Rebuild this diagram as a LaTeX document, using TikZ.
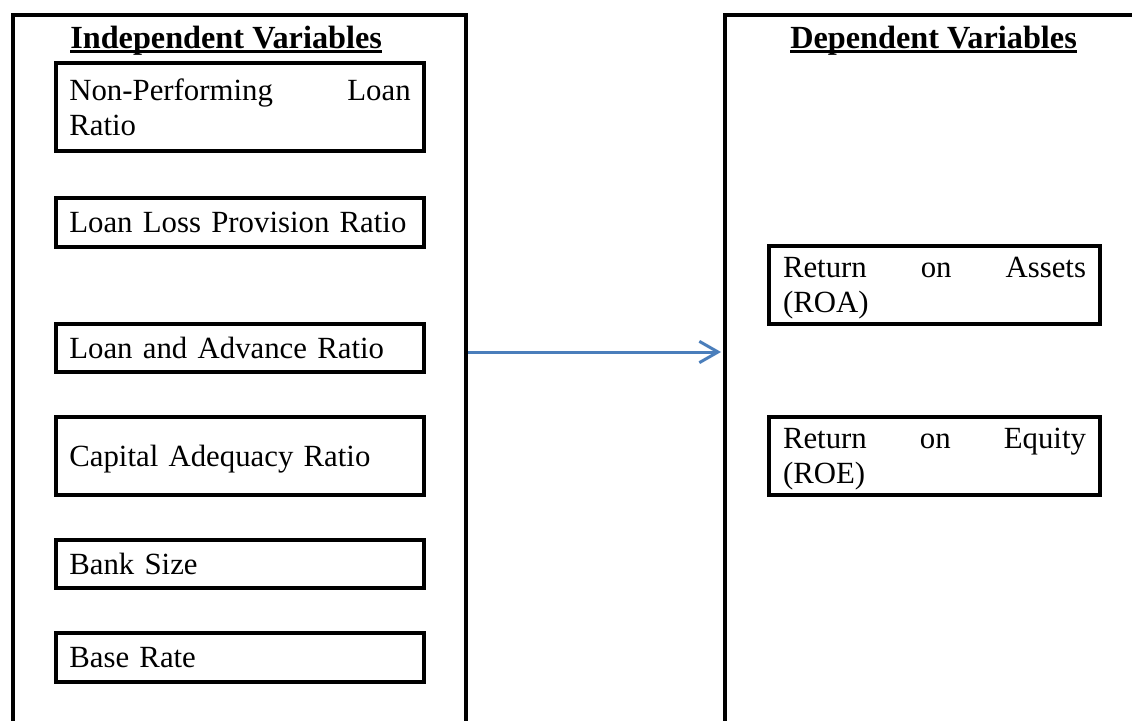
\documentclass[tikz,border=0pt]{standalone}
\usepackage{fontspec}
\setmainfont{Liberation Serif}
\usepackage{tikz}
\usetikzlibrary{arrows.meta,positioning}
\definecolor{arrowblue}{RGB}{74,126,187}
\tikzset{
  frm/.style={line width=3pt},
  var/.style={draw, line width=3pt, align=left, outer sep=0pt, inner ysep=0pt, text depth=0pt, font=\fontsize{23.1}{26.25}\selectfont},
  twoline/.style={text depth=26.25pt},
  ivar/.style={var, text width=256pt, inner xsep=10pt},
  dvar/.style={var, text width=227.25pt, inner xsep=10.5pt},
  ttl/.style={inner sep=0pt, anchor=base west, font=\fontsize{24.2}{26}\selectfont\bfseries},
  ul/.style={line width=1.9pt},
  fl/.style={-{Straight Barb[length=14pt,width=16pt]}, line width=2.25pt, arrowblue},
}

\begin{document}
\begin{tikzpicture}[x=0.75pt, y=-0.75pt]
\useasboundingbox (0,0) rectangle (1132,721);
% open frames
\draw[frm] (13,721) -- (13,15) -- (466,15) -- (466,721);
\draw[frm] (1132,15) -- (725,15) -- (725,721);
% headings
\node[ttl] (ihead) at (70,48) {Independent Variables};
\node[ttl] (dhead) at (790,48) {Dependent Variables};
\draw[ul] ([yshift=-2.6pt]ihead.base west) -- ([yshift=-2.6pt]ihead.base east);
\draw[ul] ([yshift=-2.6pt]dhead.base west) -- ([yshift=-2.6pt]dhead.base east);
% independent variables
\node[ivar, twoline, minimum height=66pt, anchor=north west] (npl) at (56,63) {Non-Performing\hfill Loan\\Ratio};
\node[ivar, minimum height=36.75pt, below=35.25pt of npl] (llp) {\mbox{Loan Loss Provision Ratio}};
\node[ivar, minimum height=36pt, below=57.75pt of llp] (lar) {Loan and Advance Ratio};
\node[ivar, minimum height=58.5pt, below=33.75pt of lar] (car) {Capital Adequacy Ratio};
\node[ivar, minimum height=36pt, below=33.75pt of car] (bsz) {Bank Size};
\node[ivar, minimum height=36.75pt, below=33.75pt of bsz] (brt) {Base Rate};
% dependent variables
\node[dvar, twoline, minimum height=58.5pt, anchor=north west] (roa) at (769,246) {Return\hfill on\hfill Assets\\(ROA)};
\node[dvar, twoline, minimum height=58.5pt, below=69.75pt of roa] (roe) {Return\hfill on\hfill Equity\\(ROE)};
% link between the two sides
\coordinate (src) at (468,352);
\coordinate (dst) at (721,352);
\draw[fl] (src) -- (dst);
\end{tikzpicture}
\end{document}
